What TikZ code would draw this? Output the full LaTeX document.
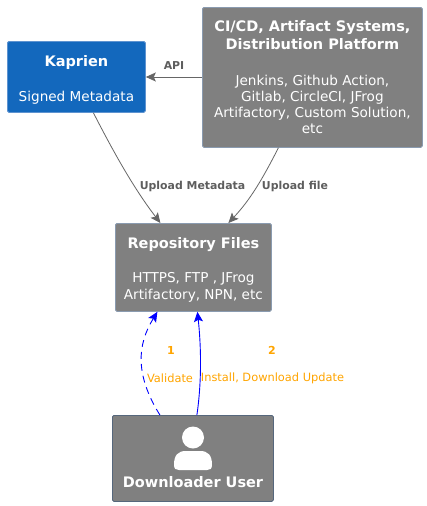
\documentclass[tikz,border=0pt]{standalone}
\usepackage{fontspec}
\setmainfont{DejaVu Sans}
\usetikzlibrary{arrows.meta}
\definecolor{boxgray}{HTML}{808080}
\definecolor{boxblue}{HTML}{1368BD}
\definecolor{edgegray}{HTML}{666666}
\definecolor{lab}{HTML}{5E5E5E}
\definecolor{org}{HTML}{FFA500}
\definecolor{edgeA}{HTML}{8A9BB0}
\definecolor{edgeB}{HTML}{5E93D0}
\definecolor{edgeC}{HTML}{56677C}
\newcommand{\ttl}{\fontsize{14.5}{16.2}\selectfont\bfseries}
\newcommand{\bdy}{\fontsize{13.6}{16.2}\selectfont}
\tikzset{
 box/.style={rectangle,rounded corners=1.5pt,fill=boxgray,draw=#1,line width=0.8pt,text=white,align=center,inner sep=0pt,anchor=north west,font=\bdy},
 box/.default=edgeA,
 conn/.style={edgegray,line width=0.8pt,-{Stealth[length=10pt,width=9pt,inset=2pt]}},
 user/.style={blue,line width=0.9pt,-{Stealth[length=10pt,width=9pt,inset=2pt]}},
 lbl/.style={text=lab,font=\fontsize{10.9}{12}\selectfont\bfseries,inner sep=0pt},
 olbl/.style={text=org,font=\fontsize{11.4}{12}\selectfont,inner sep=0pt},
 obold/.style={text=org,font=\fontsize{11}{12}\selectfont\bfseries,inner sep=0pt},
}
\begin{document}
\begin{tikzpicture}[x=1pt,y=-1pt]
\useasboundingbox (0,0) rectangle (427,506);
\fill[white] (0,0) rectangle (427,506);
\node[box=edgeB,fill=boxblue,minimum width=138pt,minimum height=71pt] (kap) at (7,41)
  {\rule{0pt}{18pt}{\ttl Kaprien}\\[18.8pt]Signed Metadata};
\node[box,minimum width=220pt,minimum height=140pt] (ci) at (202,7)
  {{\ttl CI/CD, Artifact Systems,}\\[1.8pt]{\ttl Distribution Platform}\\[19.4pt]
   Jenkins, Github Action,\\Gitlab, CircleCI, JFrog\\Artifactory, Custom Solution,\\etc};
\node[box,minimum width=156pt,minimum height=88pt] (repo) at (115,223)
  {\rule{0pt}{16pt}{\ttl Repository Files}\\[17.8pt]HTTPS, FTP , JFrog\\Artifactory, NPN, etc};
\node[box=edgeC,minimum width=161pt,minimum height=86pt] (dl) at (112,415) {};
\node[text=white,font=\ttl,inner sep=0pt] (dlt) at (193,482) {Downloader User};
\fill[white] (193,437.5) circle (11);
\fill[white] (174,465) .. controls (174,455) and (178,451) .. (186,451) -- (200,451) .. controls (208,451) and (212,455) .. (212,465)
  .. controls (212,469) and (210,470) .. (207,470) -- (179,470) .. controls (176,470) and (174,469) .. (174,465) -- cycle;

\draw[conn] (ci.west |- 0,77) -- (kap.east |- 0,77);
\draw[conn] ([xshift=17pt]kap.south) .. controls (115,155) and (135,190) .. ([xshift=-33pt]repo.north);
\draw[conn] ([xshift=-34pt]ci.south) .. controls (262,180) and (250,200) .. ([xshift=35pt]repo.north);
\draw[user,dash pattern=on 7pt off 5pt] ([xshift=-33pt]dl.north) .. controls (135,375) and (137,345) .. ([xshift=-36pt]repo.south);
\draw[user] ([xshift=4pt]dl.north) .. controls (202,380) and (201,345) .. ([xshift=4pt]repo.south);

\node[lbl] (l1) at (174,66) {API};
\node[lbl] (l2) at (192.5,186) {Upload Metadata};
\node[lbl] (l3) at (295,186) {Upload file};
\node[obold] (l4) at (171,350) {1};
\node[obold] (l5) at (272,350) {2};
\node[olbl] (l6) at (170,378) {Validate};
\node[olbl] (l7) at (272.5,378) {Install, Download Update};
\end{tikzpicture}
\end{document}
